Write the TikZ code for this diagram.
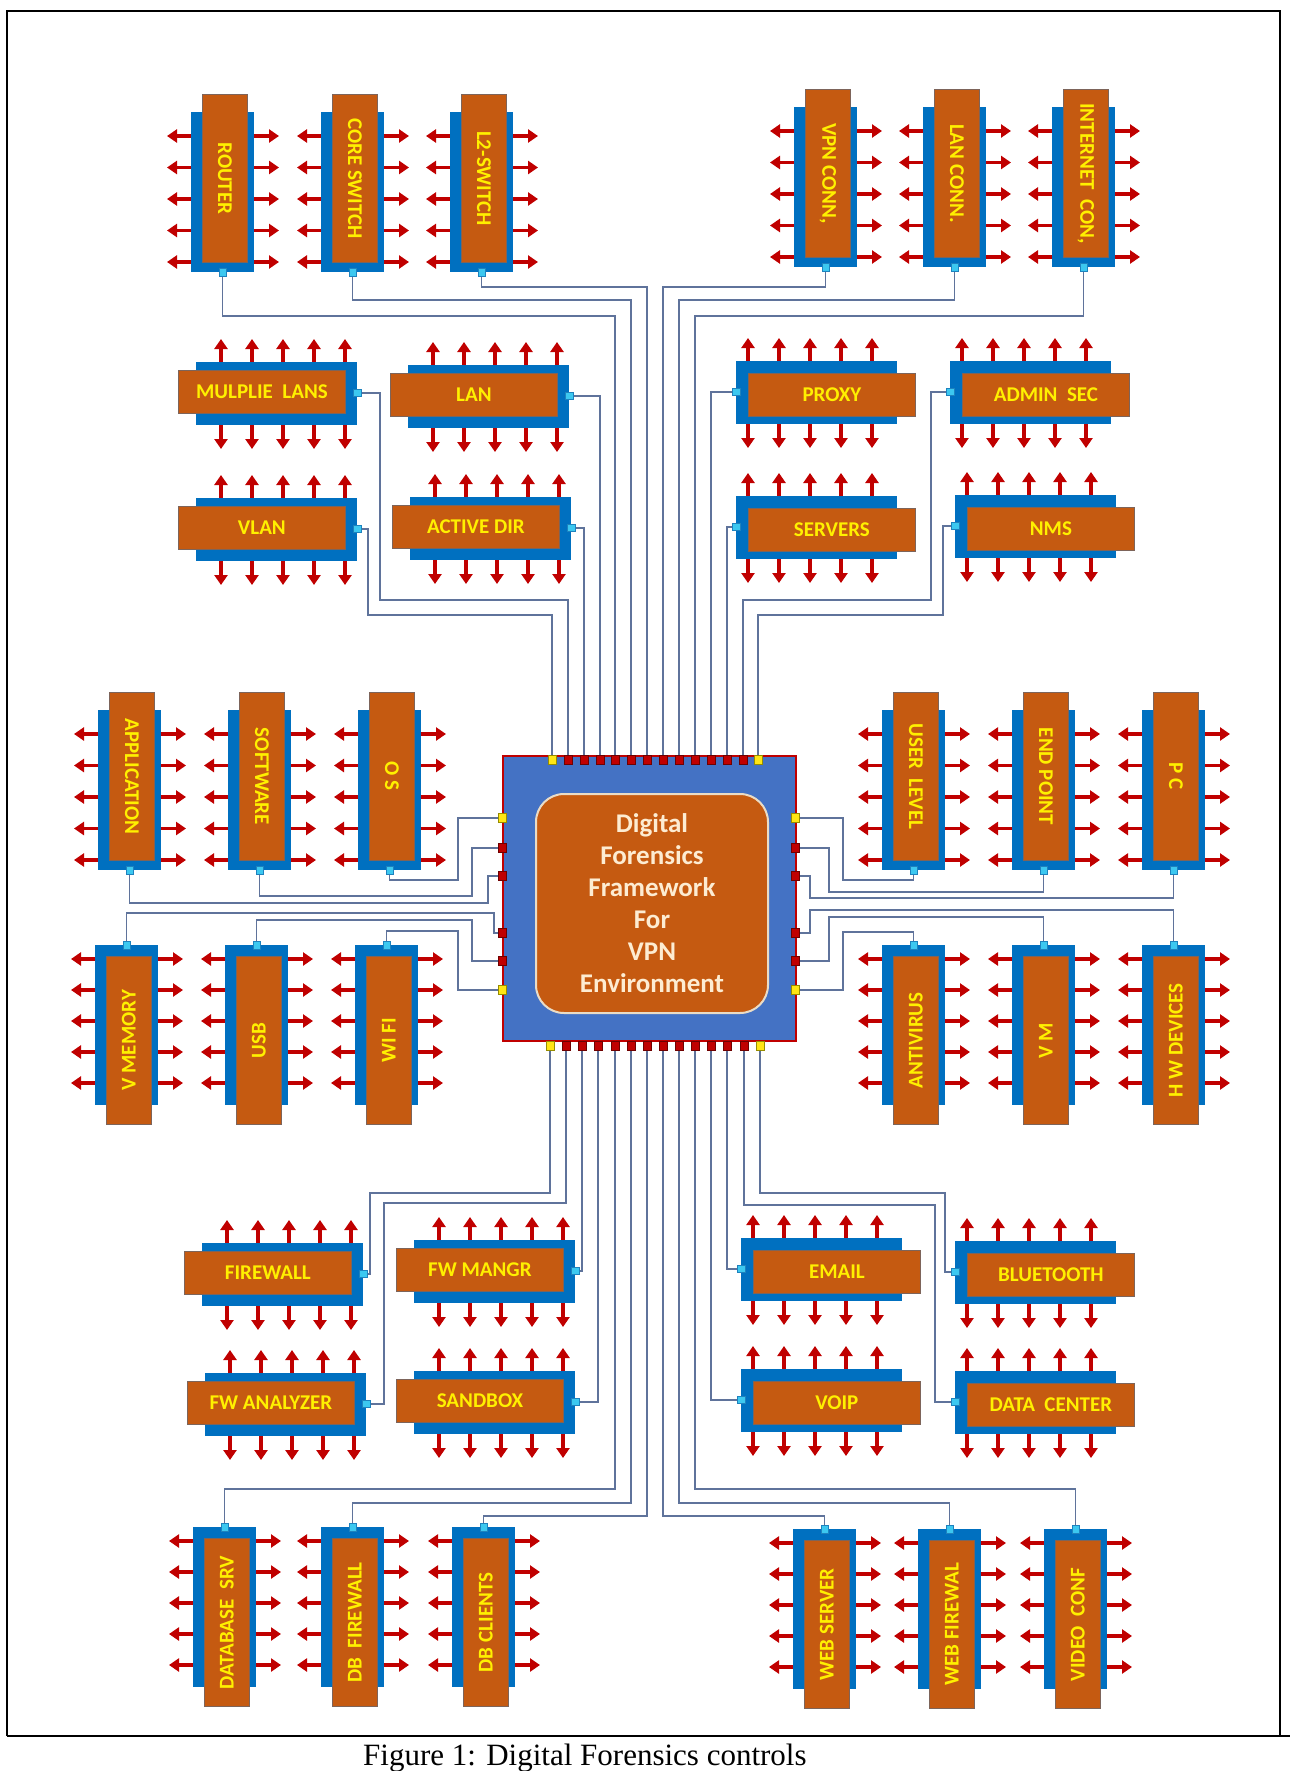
\documentclass[tikz,border=0pt]{standalone}
\usepackage{fontspec}
\setmainfont{Liberation Serif}
\newfontfamily\labfont{Carlito}
\usetikzlibrary{arrows.meta}
\pgfdeclarelayer{bgl}
\pgfdeclarelayer{wirel}
\pgfsetlayers{bgl,wirel,main}
\definecolor{cblue}{RGB}{0,112,192}
\definecolor{chipblue}{RGB}{68,114,196}
\definecolor{corange}{RGB}{197,90,17}
\definecolor{cred}{RGB}{192,0,0}
\definecolor{cyel}{RGB}{255,240,0}
\definecolor{cpyel}{RGB}{255,230,20}
\definecolor{cpin}{RGB}{60,200,240}
\definecolor{cwire}{RGB}{95,115,155}
\definecolor{ccream}{RGB}{253,236,210}
\tikzset{
  bluebox/.style={fill=cblue,draw=none,inner sep=0pt},
  orgbox/.style={fill=corange,draw={rgb,255:red,125;green,100;blue,90},line width=0.8pt,inner sep=0pt},
  lbl/.style={text=cyel,inner sep=0pt,font=\labfont\bfseries\fontsize{21}{21}\selectfont},
  redarrow/.style={draw=cred,line width=3.6pt,-{Triangle[length=10pt,width=13pt]}},
  pinsq/.style={fill=cpin,draw={rgb,255:red,30;green,130;blue,190},line width=0.5pt,minimum width=7pt,minimum height=8pt,inner sep=0pt},
  rpin/.style={fill=cred,draw={rgb,255:red,110;green,0;blue,0},line width=0.5pt,minimum width=8pt,minimum height=9pt,inner sep=0pt},
  ypin/.style={fill=cpyel,draw={rgb,255:red,150;green,140;blue,0},line width=0.5pt,minimum width=8pt,minimum height=9pt,inner sep=0pt},
  wire/.style={draw=cwire,line width=1.1pt},
}
% vertical component, orange above, pin at bottom
\newcommand{\VTop}[4]{%
  \foreach \k in {0,...,4}{%
    \draw[redarrow] ({#2},{#3+24+31.5*\k}) -- ++(-24,0);
    \draw[redarrow] ({#2+63},{#3+24+31.5*\k}) -- ++(25,0);
  }%
  \node[bluebox,minimum width=63pt,minimum height=160pt,anchor=north west] (#1-b) at (#2,#3) {};
  \node[orgbox,minimum width=45pt,minimum height=168pt,anchor=north west] (#1-o) at ({#2+11},{#3-18}) {};
  \node[lbl,rotate=-90] (#1-t) at (#1-o.center) {#4};
  \node[pinsq] (#1-p) at ({#2+31.5},{#3+160}) {};
}
% vertical component, orange below, pin at top
\newcommand{\VBot}[4]{%
  \foreach \k in {0,...,4}{%
    \draw[redarrow] ({#2},{#3+14+31*\k}) -- ++(-24,0);
    \draw[redarrow] ({#2+63},{#3+14+31*\k}) -- ++(25,0);
  }%
  \node[bluebox,minimum width=63pt,minimum height=160pt,anchor=north west] (#1-b) at (#2,#3) {};
  \node[orgbox,minimum width=45pt,minimum height=168pt,anchor=north west] (#1-o) at ({#2+11},{#3+11}) {};
  \node[lbl,rotate=90] (#1-t) at (#1-o.center) {#4};
  \node[pinsq] (#1-p) at ({#2+31.5},{#3}) {};
}
% horizontal component, pin on right
\newcommand{\HL}[4]{%
  \foreach \k in {0,...,4}{%
    \draw[redarrow] ({#2+25+31*\k},{#3}) -- ++(0,-23);
    \draw[redarrow] ({#2+25+31*\k},{#3+63}) -- ++(0,24);
  }%
  \node[bluebox,minimum width=161pt,minimum height=63pt,anchor=north west] (#1-b) at (#2,#3) {};
  \node[orgbox,minimum width=167pt,minimum height=43pt,anchor=north west] (#1-o) at ({#2-18},{#3+8}) {};
  \node[lbl] (#1-t) at (#1-o.center) {#4};
  \node[pinsq,minimum width=8pt,minimum height=7pt] (#1-p) at ({#2+161},{#3+31}) {};
}
% horizontal component, pin on left
\newcommand{\HR}[4]{%
  \foreach \k in {0,...,4}{%
    \draw[redarrow] ({#2+136-31*\k},{#3}) -- ++(0,-23);
    \draw[redarrow] ({#2+136-31*\k},{#3+63}) -- ++(0,24);
  }%
  \node[bluebox,minimum width=161pt,minimum height=63pt,anchor=north west] (#1-b) at (#2,#3) {};
  \node[orgbox,minimum width=167pt,minimum height=43pt,anchor=north west] (#1-o) at ({#2+12},{#3+12}) {};
  \node[lbl] (#1-t) at (#1-o.center) {#4};
  \node[pinsq,minimum width=8pt,minimum height=7pt] (#1-p) at ({#2},{#3+31}) {};
}
\begin{document}
\begin{tikzpicture}[x=1pt,y=-1pt]
\useasboundingbox (0,0) rectangle (1290,1771);
\begin{pgfonlayer}{bgl}
\fill[white] (0,0) rectangle (1290,1771);
\end{pgfonlayer}
% frame and caption
\draw[line width=2.5pt] (7,1736) -- (7,11) -- (1280,11) -- (1280,1736);
\draw[line width=2.5pt] (7,1736) -- (1290,1736);
\node[anchor=base west,inner sep=0pt,font=\fontsize{31}{31}\selectfont] (cap) at (363,1765) {Figure 1: Digital Forensics controls};

% central chip
\node[fill=chipblue,draw=cred,line width=1.5pt,minimum width=293pt,minimum height=285pt,anchor=north west,inner sep=0pt] (chip) at (502,755) {};
\node[fill=corange,draw=ccream!85!gray,line width=2pt,rounded corners=28pt,minimum width=232pt,minimum height=219pt,anchor=north west,inner sep=0pt] (core) at (535,793) {};
\node[align=center,text=ccream,inner sep=0pt,font=\labfont\bfseries\fontsize{27}{32}\selectfont] (coretxt) at (core.center) {Digital\\Forensics\\Framework\\For\\VPN\\Environment};
% chip pins
\node[ypin] (t1) at (552,760) {};
\node[ypin] (t14) at (758,760) {};
\foreach \i/\x in {2/568,3/584,4/600,5/615,6/631,7/647,8/663,9/679,10/695,11/711,12/727,13/743}
  \node[rpin] (t\i) at (\x,760) {};
\node[ypin] (b1) at (550,1046) {};
\node[ypin] (b14) at (760,1046) {};
\foreach \i/\x in {2/566,3/582,4/598,5/615,6/631,7/647,8/663,9/679,10/695,11/711,12/727,13/744}
  \node[rpin] (b\i) at (\x,1046) {};
\node[ypin] (l1) at (502,818) {};
\node[ypin] (l6) at (502,990) {};
\node[ypin] (r1) at (795,818) {};
\node[ypin] (r6) at (795,990) {};
\foreach \i/\y in {2/848,3/876,4/933,5/961}{
  \node[rpin] (l\i) at (502,\y) {};
  \node[rpin] (r\i) at (795,\y) {};
}

% components
\VTop{router}{191}{112}{ROUTER}
\VTop{coresw}{321}{112}{CORE SWITCH}
\VTop{ltwo}{450}{112}{L2-SWITCH}
\VTop{vpnc}{794}{107}{VPN CONN,}
\VTop{lanc}{923}{107}{LAN CONN.}
\VTop{inetc}{1052}{107}{INTERNET\ \ CON,}
\HL{mlans}{196}{362}{MULPLIE\ \ LANS}
\HL{lan}{408}{365}{LAN}
\HL{vlan}{196}{498}{VLAN}
\HL{adir}{410}{497}{ACTIVE DIR}
\HR{proxy}{736}{361}{PROXY}
\HR{admin}{950}{361}{ADMIN\ \ SEC}
\HR{servers}{736}{496}{SERVERS}
\HR{nms}{955}{495}{NMS}
\VTop{app}{98}{710}{APPLICATION}
\VTop{soft}{228}{710}{SOFTWARE}
\VTop{os}{358}{710}{O S}
\VTop{ulevel}{882}{710}{USER\ \ LEVEL}
\VTop{epoint}{1012}{710}{END POINT}
\VTop{pc}{1142}{710}{P C}
\VBot{vmem}{95}{945}{V MEMORY}
\VBot{usb}{225}{945}{USB}
\VBot{wifi}{355}{945}{WI FI}
\VBot{antiv}{882}{945}{ANTIVIRUS}
\VBot{vm}{1012}{945}{V M}
\VBot{hwdev}{1142}{945}{H W DEVICES}
\HL{fwall}{202}{1243}{FIREWALL}
\HL{fwmgr}{414}{1240}{FW MANGR}
\HL{fwan}{205}{1373}{FW ANALYZER}
\HL{sandbox}{414}{1371}{SANDBOX}
\HR{email}{741}{1238}{EMAIL}
\HR{bluet}{955}{1241}{BLUETOOTH}
\HR{voip}{741}{1369}{VOIP}
\HR{dcenter}{955}{1371}{DATA\ \ CENTER}
\VBot{dbsrv}{193}{1527}{DATABASE\ \ SRV}
\VBot{dbfw}{321}{1527}{DB\ \ FIREWALL}
\VBot{dbcl}{452}{1527}{DB CLIENTS}
\VBot{websrv}{793}{1529}{WEB SERVER}
\VBot{webfw}{918}{1529}{WEB FIREWAL}
\VBot{vconf}{1044}{1529}{VIDEO\ \ CONF}

% wires
\begin{pgfonlayer}{wirel}
\draw[wire] (vlan-p) -| (368,615) -| (t1);
\draw[wire] (mlans-p) -| (380,600) -| (t2);
\draw[wire] (adir-p) -| (t3);
\draw[wire] (lan-p) -| (t4);
\draw[wire] (router-p) |- (615,316) -- (t5);
\draw[wire] (coresw-p) |- (631,300) -- (t6);
\draw[wire] (ltwo-p) |- (647,287) -- (t7);
\draw[wire] (vpnc-p) |- (663,287) -- (t8);
\draw[wire] (lanc-p) |- (679,300) -- (t9);
\draw[wire] (inetc-p) |- (695,316) -- (t10);
\draw[wire] (proxy-p) -| (t11);
\draw[wire] (servers-p) -| (t12);
\draw[wire] (admin-p) -| (931,600) -| (t13);
\draw[wire] (nms-p) -| (943,615) -| (t14);

\draw[wire] (os-p) |- (458,880) |- (l1);
\draw[wire] (soft-p) |- (472,896) |- (l2);
\draw[wire] (app-p) |- (488,903) |- (l3);
\draw[wire] (vmem-p) |- (494,913) |- (l4);
\draw[wire] (usb-p) |- (472,920) |- (l5);
\draw[wire] (wifi-p) |- (458,931) |- (l6);

\draw[wire] (ulevel-p) |- (843,880) |- (r1);
\draw[wire] (epoint-p) |- (829,892) |- (r2);
\draw[wire] (pc-p) |- (810,898) |- (r3);
\draw[wire] (hwdev-p) |- (810,910) |- (r4);
\draw[wire] (vm-p) |- (829,917) |- (r5);
\draw[wire] (antiv-p) |- (843,932) |- (r6);

\draw[wire] (fwall-p) -| (370,1193) -| (b1);
\draw[wire] (fwan-p) -| (384,1203) -| (b2);
\draw[wire] (fwmgr-p) -| (b3);
\draw[wire] (sandbox-p) -| (b4);
\draw[wire] (dbsrv-p) |- (615,1489) -- (b5);
\draw[wire] (dbfw-p) |- (631,1503) -- (b6);
\draw[wire] (dbcl-p) |- (647,1516) -- (b7);
\draw[wire] (websrv-p) |- (663,1516) -- (b8);
\draw[wire] (webfw-p) |- (679,1503) -- (b9);
\draw[wire] (vconf-p) |- (695,1489) -- (b10);
\draw[wire] (voip-p) -| (b11);
\draw[wire] (email-p) -| (b12);
\draw[wire] (dcenter-p) -| (935,1205) -| (b13);
\draw[wire] (bluet-p) -| (945,1193) -| (b14);
\end{pgfonlayer}
\end{tikzpicture}
\end{document}
